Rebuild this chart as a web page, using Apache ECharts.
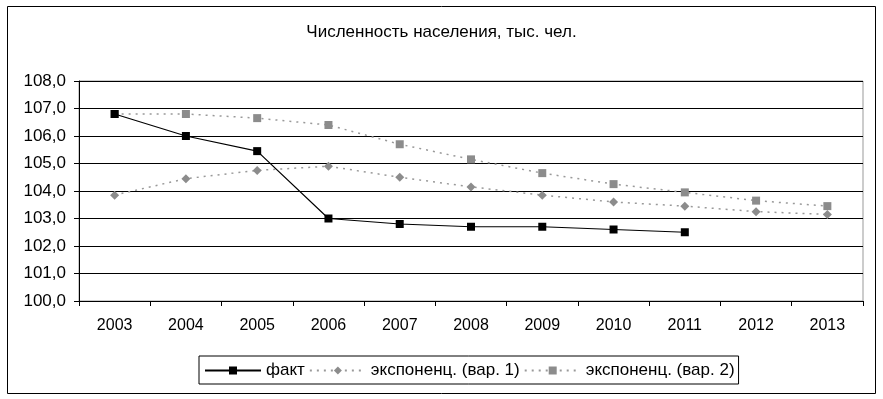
<!DOCTYPE html>
<html>
<head>
<meta charset="utf-8">
<script src="https://cdn.jsdelivr.net/npm/echarts@6/dist/echarts.min.js"></script>
<style>
  html, body { margin: 0; padding: 0; background: #fff; }
  #chart { width: 883px; height: 399px; }
</style>
</head>
<body>
<div id="chart"></div>
<script>
// данные графика
const years = ['2003', '2004', '2005', '2006', '2007', '2008', '2009', '2010', '2011', '2012', '2013']
const fact = [106.8, 106.0, 105.45, 103.0, 102.8, 102.7, 102.7, 102.6, 102.5, null, null]
const expVar1 = [103.85, 104.45, 104.75, 104.9, 104.5, 104.15, 103.85, 103.6, 103.45, 103.25, 103.15]
const expVar2 = [106.8, 106.8, 106.65, 106.4, 105.7, 105.15, 104.65, 104.25, 103.95, 103.65, 103.45]
const seriesNames = ['факт', 'экспоненц. (вар. 1)', 'экспоненц. (вар. 2)']

const chart = echarts.init(document.getElementById('chart'))
const font = 'Liberation Sans, Arial, sans-serif'

chart.setOption({
  animation: false,
  backgroundColor: '#fff',
  textStyle: { fontFamily: font },
  graphic: [{
    type: 'rect',
    shape: { x: 7.5, y: 6.5, width: 868, height: 387 },
    style: { fill: 'none', stroke: '#000', lineWidth: 1 },
    z: -1
  }],
  title: {
    text: 'Численность населения, тыс. чел.',
    left: 'center',
    top: 19,
    textStyle: { fontSize: 17, fontWeight: 'normal', color: '#000', fontFamily: font }
  },
  legend: {
    left: 199,
    top: 356,
    data: seriesNames,
    itemWidth: 56,
    itemHeight: 10,
    itemGap: 4,
    padding: [6, 4, 5, 5],
    borderColor: '#000',
    borderWidth: 1,
    borderRadius: 0,
    textStyle: { fontSize: 17, color: '#000', fontFamily: font }
  },
  grid: {
    left: 79, right: 20, top: 81, bottom: 98,
    show: true, borderColor: '#999', borderWidth: 1
  },
  xAxis: {
    type: 'category',
    data: years,
    boundaryGap: true,
    axisLine: { lineStyle: { color: '#000' } },
    axisTick: { show: true, length: 5, lineStyle: { color: '#000' } },
    axisLabel: { color: '#000', fontSize: 16, margin: 17, fontFamily: font }
  },
  yAxis: {
    type: 'value',
    min: 100,
    max: 108,
    interval: 1,
    axisLine: { show: true, lineStyle: { color: '#000' } },
    axisTick: { show: true, length: 5, lineStyle: { color: '#000' } },
    splitLine: { lineStyle: { color: '#000', width: 1 } },
    axisLabel: {
      color: '#000', fontSize: 17, margin: 13, fontFamily: font,
      formatter: v => v.toFixed(1).replace('.', ',')
    }
  },
  series: [
    {
      name: seriesNames[0],
      type: 'line',
      data: fact,
      symbol: 'rect',
      symbolSize: 8,
      lineStyle: { color: '#000', width: 1.2 },
      itemStyle: { color: '#000' },
      z: 5
    },
    {
      name: seriesNames[1],
      type: 'line',
      data: expVar1,
      symbol: 'diamond',
      symbolSize: 9,
      lineStyle: { color: '#999', width: 1.5, type: [2, 5] },
      itemStyle: { color: '#8c8c8c' }
    },
    {
      name: seriesNames[2],
      type: 'line',
      data: expVar2,
      symbol: 'rect',
      symbolSize: 8,
      lineStyle: { color: '#999', width: 1.5, type: [2, 5] },
      itemStyle: { color: '#8c8c8c' }
    }
  ]
})
</script>
</body>
</html>
